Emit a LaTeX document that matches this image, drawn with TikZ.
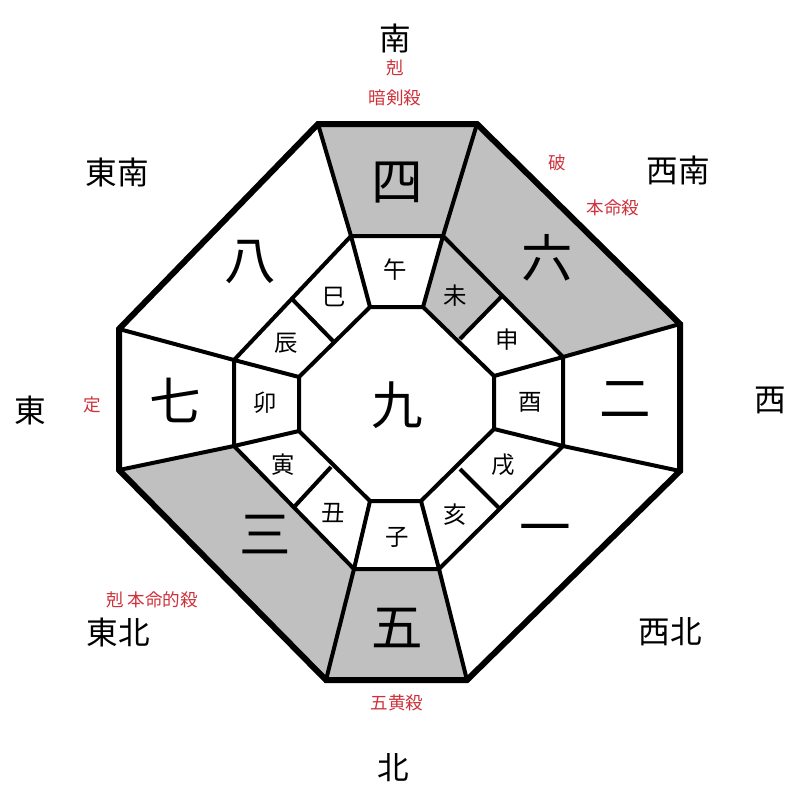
\documentclass[tikz,border=0pt]{standalone}
\usepackage{fontspec}
\newfontfamily\jp{Noto Sans CJK JP}
\definecolor{sectorgray}{RGB}{192,192,192}
\definecolor{labelred}{RGB}{205,50,60}
\begin{document}
\begin{tikzpicture}[
    x=0.3mm, y=-0.3mm,
    star/.style={font=\jp\fontsize{44}{44}\selectfont, inner sep=0},
    branch/.style={font=\jp\fontsize{20}{20}\selectfont, inner sep=0},
    direction/.style={font=\jp\fontsize{27}{27}\selectfont, inner sep=0},
    omen/.style={font=\jp\fontsize{15}{15}\selectfont, text=labelred, inner sep=0},
    grid/.style={line width=1.2mm, line join=miter},
    rim/.style={line width=1.8mm, line join=miter}]
\useasboundingbox (0,0) rectangle (800,800);
% outer, middle and inner octagons
\foreach \n/\p in {1/{318,124},2/{477,124},3/{680,324},4/{680,471},5/{467,680},6/{326,680},7/{119,470},8/{119,329}}
    \coordinate (O\n) at (\p);
\foreach \n/\p in {1/{351,236},2/{443,236},3/{563,357},4/{563,446},5/{439,569},6/{354,569},7/{234,446},8/{234,360}}
    \coordinate (M\n) at (\p);
\foreach \n/\p in {1/{370,307},2/{423,307},3/{494,376},4/{494,429},5/{421,501},6/{370,501},7/{299,431},8/{299,377}}
    \coordinate (I\n) at (\p);
% dividers of the diagonal sectors
\coordinate (neA) at (502,296); \coordinate (neB) at (460,339);
\coordinate (seA) at (500,509); \coordinate (seB) at (460,469);
\coordinate (swA) at (295,506); \coordinate (swB) at (331,467);
\coordinate (nwA) at (292,299); \coordinate (nwB) at (333,341);

\fill[sectorgray] (O1) -- (O2) -- (M2) -- (M1) -- cycle;
\fill[sectorgray] (O2) -- (O3) -- (M3) -- (M2) -- cycle;
\fill[sectorgray] (M2) -- (neA) -- (neB) -- (I2) -- cycle;
\fill[sectorgray] (O5) -- (O6) -- (M6) -- (M5) -- cycle;
\fill[sectorgray] (O6) -- (O7) -- (M7) -- (M6) -- cycle;

\draw[grid] (M1) -- (M2) -- (M3) -- (M4) -- (M5) -- (M6) -- (M7) -- (M8) -- cycle;
\draw[grid] (I1) -- (I2) -- (I3) -- (I4) -- (I5) -- (I6) -- (I7) -- (I8) -- cycle;
\foreach \n in {1,...,8}
    \draw[grid] (O\n) -- (M\n) -- (I\n);
\foreach \d in {ne,se,sw,nw}
    \draw[grid] (\d A) -- (\d B);
\draw[rim] (O1) -- (O2) -- (O3) -- (O4) -- (O5) -- (O6) -- (O7) -- (O8) -- cycle;

% stars
\node[star] (s9) at (397,405) {九};
\node[star] (s4) at (397,183) {四};
\node[star] (s6) at (547,258) {六};
\node[star] (s2) at (625,400) {二};
\node[star] (s1) at (545,535) {一};
\node[star] (s5) at (397,628) {五};
\node[star] (s3) at (265,535) {三};
\node[star] (s7) at (175,400) {七};
\node[star] (s8) at (250,262) {八};

% branches
\node[branch] (wu)   at (395,270) {午};
\node[branch] (wei)  at (455,296) {未};
\node[branch] (shen) at (507,340) {申};
\node[branch] (you)  at (530,402) {酉};
\node[branch] (xu)   at (503,465) {戌};
\node[branch] (hai)  at (455,515) {亥};
\node[branch] (zi)   at (397,537) {子};
\node[branch] (chou) at (333,513) {丑};
\node[branch] (yin)  at (283,465) {寅};
\node[branch] (mao)  at (265,403) {卯};
\node[branch] (chen) at (286,343) {辰};
\node[branch] (si)   at (334,297) {巳};

% directions
\node[direction] (south)     at (395,38)  {南};
\node[direction] (southeast) at (117,172) {東南};
\node[direction] (southwest) at (678,170) {西南};
\node[direction] (east)      at (30,410)  {東};
\node[direction] (west)      at (770,400) {西};
\node[direction] (northeast) at (118,632) {東北};
\node[direction] (northwest) at (670,632) {西北};
\node[direction] (north)     at (393,768) {北};

% omens
\node[omen] (kokuS)  at (395,68)  {剋};
\node[omen] (anken)  at (395,98)  {暗剣殺};
\node[omen] (ha)     at (557,163) {破};
\node[omen] (honmei) at (613,208) {本命殺};
\node[omen] (tei)    at (92,405)  {定};
\node[omen] (kokuNE) at (152,600) {剋 本命的殺};
\node[omen] (gooh)   at (397,703) {五黄殺};
\end{tikzpicture}
\end{document}
